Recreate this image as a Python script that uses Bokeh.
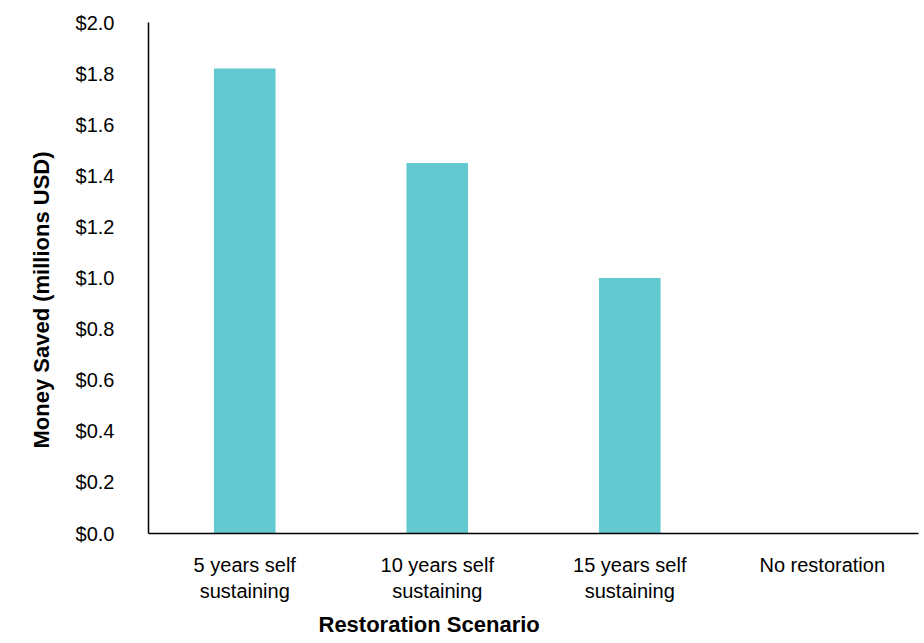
from bokeh.plotting import figure
from bokeh.models import FixedTicker, NumeralTickFormatter, Title
from bokeh.embed import file_html
from bokeh.resources import INLINE

categories = ["5 years self\nsustaining", "10 years self\nsustaining", "15 years self\nsustaining", "No restoration"]
money_saved = [1.82, 1.45, 1.0, 0.0]
y_ticks = [0.0, 0.2, 0.4, 0.6, 0.8, 1.0, 1.2, 1.4, 1.6, 1.8, 2.0]

FONT = "Liberation Sans Narrow, Arial Narrow, Liberation Sans, sans-serif"

p = figure(x_range=categories, y_range=(0, 2.0), width=924, height=643,
           output_backend="svg", toolbar_location=None,
           min_border_left=148, min_border_right=6, min_border_top=22, min_border_bottom=110)
p.x_range.range_padding = 0
p.vbar(x=categories, top=money_saved, width=0.32, color="#63C9D0", line_color=None)

p.outline_line_color = None
p.grid.grid_line_color = None

for ax in (p.xaxis[0], p.yaxis[0]):
    ax.major_tick_line_color = None
    ax.minor_tick_line_color = None
    ax.axis_line_color = "#000000"
    ax.axis_line_width = 1.5
    ax.major_label_text_font = FONT
    ax.major_label_text_font_size = "20px"
    ax.major_label_text_color = "#000000"

p.yaxis.ticker = FixedTicker(ticks=y_ticks)
p.yaxis.formatter = NumeralTickFormatter(format="$0.0")
p.yaxis.major_label_standoff = 28
p.xaxis.major_label_standoff = 14

ytitle = Title(text="Money Saved (millions USD)", align="left", offset=85,
               text_font=FONT, text_font_style="bold", text_font_size="22px",
               text_color="#000000", standoff=37)
p.add_layout(ytitle, "left")

xtitle = Title(text="Restoration Scenario", align="left", offset=170,
               text_font=FONT, text_font_style="bold", text_font_size="22px",
               text_color="#000000", standoff=11)
p.add_layout(xtitle, "below")

open("out.html", "w").write(file_html(p, INLINE))
